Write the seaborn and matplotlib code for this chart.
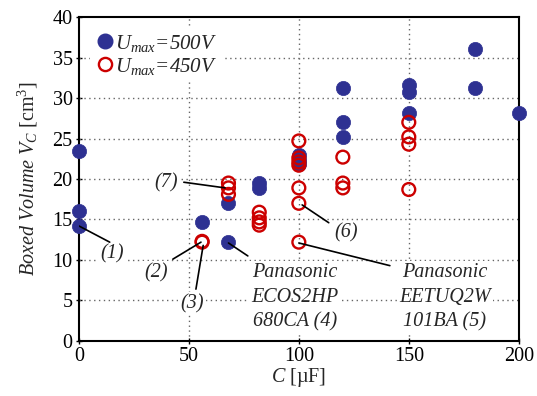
import pandas as pd
import matplotlib.pyplot as plt
import seaborn as sns
from matplotlib.lines import Line2D

# capacitor data (C in uF, boxed volume in cm^3)
c_500 = [0, 0, 0, 56, 68, 68, 82, 82, 100, 100, 100, 120, 120, 120, 150, 150, 150, 180, 180, 200]
v_500 = [23.5, 16.0, 14.2, 14.7, 17.0, 12.2, 19.5, 18.9, 23.0, 22.3, 21.9, 31.2, 27.0, 25.2, 31.6, 30.7, 28.1, 36.0, 31.2, 28.1]

c_450 = [56, 56, 68, 68, 68, 82, 82, 82, 82, 100, 100, 100, 100, 100, 100, 100, 120, 120, 120, 150, 150, 150, 150]
v_450 = [12.3, 12.2, 19.5, 18.9, 18.1, 15.9, 15.2, 14.7, 14.3, 24.7, 22.6, 22.1, 21.7, 18.9, 17.0, 12.2, 22.7, 19.5, 18.9, 27.0, 25.2, 24.3, 18.7]

df500 = pd.DataFrame({'C': c_500, 'V': v_500})
df450 = pd.DataFrame({'C': c_450, 'V': v_450})

# annotations: label, point, end of leader line, text position
ann_labels = ['(1)', '(2)', '(3)', '(7)', '(6)', 'Panasonic\nECOS2HP\n680CA (4)', 'Panasonic\nEETUQ2W\n101BA (5)']
ann_points = [(0, 14.2), (55.5, 12.2), (56.5, 11.8), (66.5, 18.9), (101.5, 16.8), (68, 12.1), (100, 12.1)]
ann_ends = [(14, 12.2), (42.7, 10.1), (53.2, 6.4), (47.7, 19.6), (113.6, 14.6), (76.8, 10.5), (141.4, 9.3)]
ann_text = [(15, 10.7), (35, 8.4), (51.5, 4.6), (39.5, 19.5), (121.4, 13.3), (98.2, 5.4), (166.4, 5.4)]

blue = '#2e3192'
red = '#cc0000'

sns.set_theme(style='white')
plt.rcParams['font.family'] = ['Liberation Serif', 'DejaVu Serif']
plt.rcParams['mathtext.fontset'] = 'custom'
plt.rcParams['mathtext.rm'] = 'Liberation Serif'
plt.rcParams['mathtext.it'] = 'Liberation Serif:italic'

fig, ax = plt.subplots(figsize=(5.37, 3.96), dpi=100)
fig.subplots_adjust(left=0.147, right=0.966, bottom=0.139, top=0.957)

sns.scatterplot(data=df500, x='C', y='V', ax=ax, color=blue, s=105, edgecolor=blue,
                linewidth=0.5, zorder=3, clip_on=False)
sns.scatterplot(data=df450, x='C', y='V', ax=ax, facecolor='none', edgecolor=red, s=85,
                linewidth=1.7, zorder=4, clip_on=False)

for lab, p, e, t in zip(ann_labels, ann_points, ann_ends, ann_text):
    ax.plot([p[0], e[0]], [p[1], e[1]], color='black', lw=1.2, zorder=5)
    ax.text(t[0], t[1], lab, ha='center', va='center', multialignment='center',
            fontsize=14.5, style='italic', linespacing=1.4, zorder=2,
            bbox=dict(facecolor='white', edgecolor='none', pad=1.5))

ax.set_xlim(0, 200)
ax.set_ylim(0, 40)
ax.set_xticks([0, 50, 100, 150, 200])
ax.set_yticks(range(0, 41, 5))
ax.tick_params(labelsize=14.5, direction='inout', length=5, width=1, colors='black',
               bottom=True, left=True, pad=2)
for x in [50, 100, 150]:
    ax.axvline(x, color='#666666', ls=(0, (1, 2.5)), lw=1, zorder=1)
for y in range(5, 40, 5):
    ax.axhline(y, color='#666666', ls=(0, (1, 2.5)), lw=1, zorder=1)
for sp in ax.spines.values():
    sp.set_color('black')
    sp.set_linewidth(1.5)

ax.set_xlabel('$C$ [µF]', fontsize=14.5, labelpad=0)
ax.set_ylabel(r'$\mathit{Boxed\ Volume\ V_C}\ \mathrm{[cm^3]}$', fontsize=14.5, labelpad=9)

handles = [
    Line2D([], [], marker='o', ls='none', color=blue, markersize=10.5),
    Line2D([], [], marker='o', ls='none', markerfacecolor='none', markeredgecolor=red,
           markeredgewidth=1.7, markersize=9.5),
]
leg = ax.legend(handles, [r'$U_{max}$=500V', r'$U_{max}$=450V'], loc='upper left',
                frameon=True, fancybox=False, framealpha=1, edgecolor='none',
                handletextpad=0.0, handlelength=1.0, borderaxespad=0.55, labelspacing=0.1,
                borderpad=0.2, prop={'size': 15, 'style': 'italic'})
leg.set_zorder(6)

plt.savefig('out.png', dpi=100)
